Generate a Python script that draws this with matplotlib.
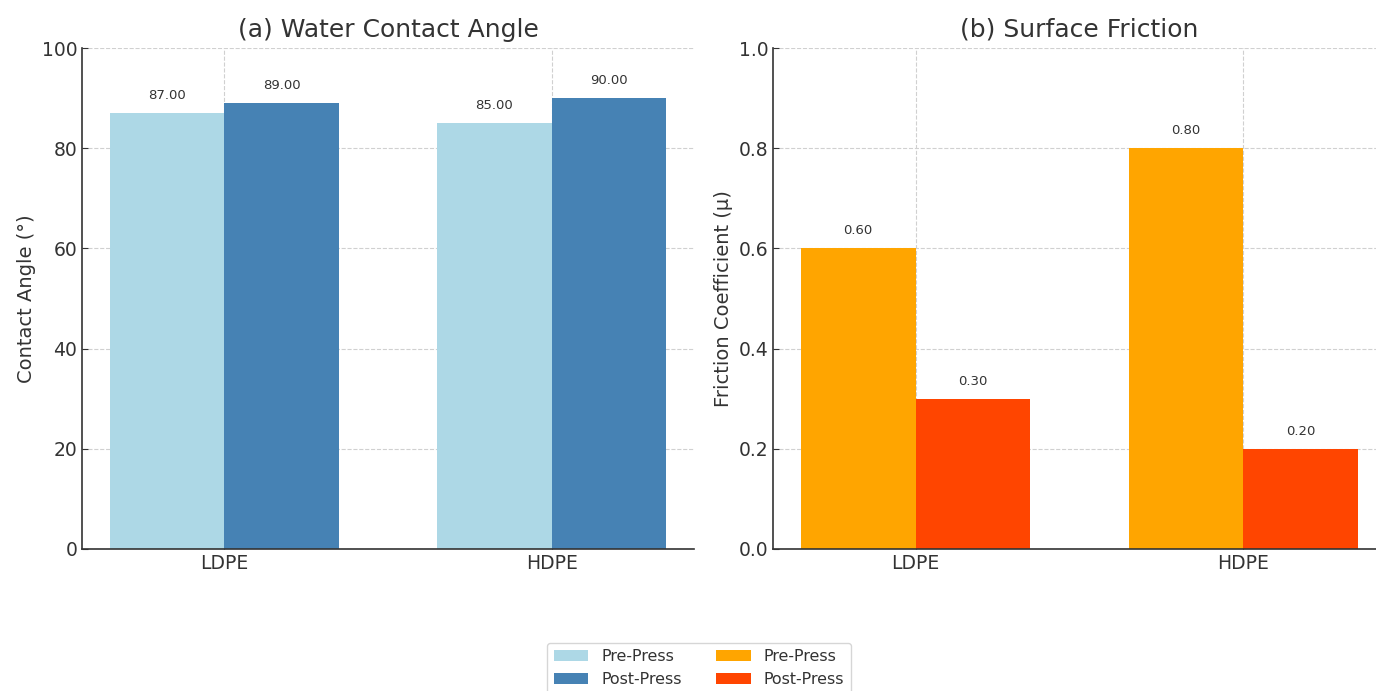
import matplotlib
matplotlib.use("Agg")
import matplotlib.pyplot as plt
import numpy as np

materials = ["LDPE", "HDPE"]
series_labels = ["Pre-Press", "Post-Press"]
contact_pre = [87.0, 85.0]
contact_post = [89.0, 90.0]
friction_pre = [0.60, 0.80]
friction_post = [0.30, 0.20]

plt.rcParams["font.family"] = ["DejaVu Sans"]
text_color = "#333333"

W, H = 1376, 691
fig = plt.figure(figsize=(W / 100, H / 100), dpi=100)

def px_axes(left, right, top, bottom):
    return [left / W, (H - bottom) / H, (right - left) / W, (bottom - top) / H]

ax1 = fig.add_axes(px_axes(82, 694, 48, 549))
ax2 = fig.add_axes(px_axes(773, 1386, 48, 549))

x = np.arange(len(materials))
width = 0.35

def style(ax, title, ylabel, ylim, yticks, fmt):
    ax.set_axisbelow(True)
    ax.grid(True, linestyle="--", color="#d0d0d0", linewidth=0.8)
    for side in ("top", "right"):
        ax.spines[side].set_visible(False)
    for side in ("left", "bottom"):
        ax.spines[side].set_color("#333333")
        ax.spines[side].set_linewidth(1.2)
    ax.set_title(title, fontsize=18, color=text_color, pad=8)
    ax.set_ylabel(ylabel, fontsize=14, color=text_color)
    ax.set_ylim(*ylim)
    ax.set_yticks(yticks)
    ax.set_yticklabels([fmt.format(v) for v in yticks])
    ax.set_xticks(x)
    ax.set_xticklabels(materials)
    ax.tick_params(axis="both", labelsize=13.5, labelcolor=text_color,
                   direction="in", length=4, color="#333333")

b1 = ax1.bar(x - width / 2, contact_pre, width, color="lightblue", label=series_labels[0])
b2 = ax1.bar(x + width / 2, contact_post, width, color="steelblue", label=series_labels[1])
for b in (b1, b2):
    ax1.bar_label(b, fmt="%.2f", padding=8, fontsize=9.5, color=text_color)
style(ax1, "(a) Water Contact Angle", "Contact Angle (°)", (0, 100),
      [0, 20, 40, 60, 80, 100], "{:.0f}")

b3 = ax2.bar(x - width / 2, friction_pre, width, color="orange", label=series_labels[0])
b4 = ax2.bar(x + width / 2, friction_post, width, color="orangered", label=series_labels[1])
for b in (b3, b4):
    ax2.bar_label(b, fmt="%.2f", padding=8, fontsize=9.5, color=text_color)
style(ax2, "(b) Surface Friction", "Friction Coefficient (μ)", (0, 1.0),
      [0.0, 0.2, 0.4, 0.6, 0.8, 1.0], "{:.1f}")

leg = fig.legend([b1, b2, b3, b4], series_labels + series_labels, ncol=2,
                 loc="upper center", bbox_to_anchor=(699 / W, (H - 635) / H),
                 fontsize=11.4, frameon=True, columnspacing=2.2,
                 handlelength=2.2)
leg.get_frame().set_edgecolor("#cccccc")
for t in leg.get_texts():
    t.set_color(text_color)

fig.savefig("out.png", dpi=100, facecolor="white")
